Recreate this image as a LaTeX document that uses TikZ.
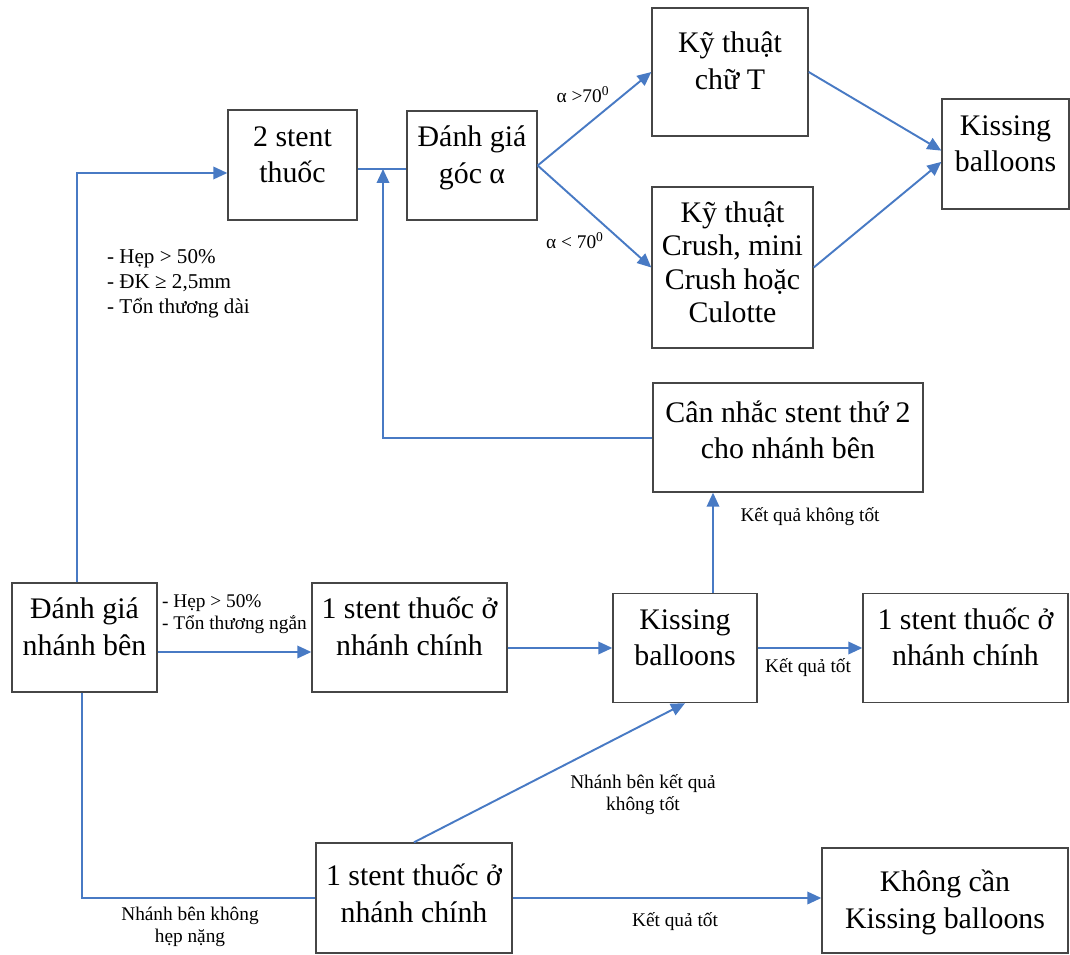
\documentclass[tikz,border=0pt]{standalone}
\usepackage{fontspec}
\setmainfont{Liberation Serif}
\usepackage{xcolor}
\usetikzlibrary{arrows.meta}
\definecolor{linkblue}{RGB}{72,122,196}
\definecolor{framegray}{RGB}{70,70,70}
% box text, lifted a little above the centre
\newcommand{\boxtext}[2][4.5pt]{\raisebox{#1}[\height][\depth]{\begin{tabular}{@{}c@{}}#2\end{tabular}}}

\begin{document}
\begin{tikzpicture}[x=0.02cm, y=-0.02cm,
                box/.style={draw=framegray, line width=0.8pt, rectangle, inner sep=0pt, font=\fontsize{17}{21}\selectfont},
                link/.style={draw=linkblue, line width=1.1pt},
                arrow/.style={link, -{Triangle[length=2.8mm, width=2.5mm]}},
                note/.style={font=\fontsize{11}{12.5}\selectfont, inner sep=1pt, align=center}]
                \useasboundingbox (0,0) rectangle (1070,955);

                \node[box, minimum width=2.58cm, minimum height=2.2cm] (s2) at (292.5,165) {\boxtext{2 stent\\thuốc}};
                \node[box, minimum width=2.6cm, minimum height=2.18cm] (goc) at (472,165.5) {\boxtext{Đánh giá\\góc α}};
                \node[box, minimum width=3.12cm, minimum height=2.56cm] (chuT) at (730,72) {\boxtext[5pt]{Kỹ thuật\\chữ T}};
                \node[box, minimum width=3.22cm, minimum height=3.22cm, font=\fontsize{17}{19}\selectfont] (crush) at (732.5,267.5) {\boxtext[1pt]{Kỹ thuật\\Crush, mini\\Crush hoặc\\Culotte}};
                \node[box, minimum width=2.54cm, minimum height=2.2cm] (kiss1) at (1005.5,154) {\boxtext{Kissing\\balloons}};
                \node[box, minimum width=5.4cm, minimum height=2.18cm] (cannhac) at (788,437.5) {\boxtext[2.5pt]{Cân nhắc stent thứ 2\\cho nhánh bên}};
                \node[box, minimum width=2.9cm, minimum height=2.18cm] (dgnb) at (84.5,637.5) {\boxtext{Đánh giá\\nhánh bên}};
                \node[box, minimum width=3.9cm, minimum height=2.18cm] (s1a) at (409.5,637.5) {\boxtext{1 stent thuốc ở\\nhánh chính}};
                \node[box, minimum width=2.88cm, minimum height=2.18cm] (kiss2) at (685,648) {\boxtext{Kissing\\balloons}};
                \node[box, minimum width=4.1cm, minimum height=2.18cm] (s1b) at (965.5,648) {\boxtext{1 stent thuốc ở\\nhánh chính}};
                \node[box, minimum width=3.92cm, minimum height=2.2cm] (s1c) at (414,898) {\boxtext[1pt]{1 stent thuốc ở\\nhánh chính}};
                \node[box, minimum width=4.92cm, minimum height=2.1cm] (khong) at (945,900.5) {\boxtext[-1pt]{Không cần\\Kissing balloons}};

                \coordinate (upleft) at (77,173);
                \coordinate (merge) at (383,169);
                \coordinate (back) at (383,438);
                \coordinate (rowa) at (0,652);
                \coordinate (rise) at (713,0);
                \coordinate (downleft) at (82,0);

                \draw[arrow] (dgnb.north -| upleft) -- (upleft) -- (upleft -| s2.west);
                \draw[link] (s2.east |- merge) -- (goc.west |- merge);
                \draw[arrow] (cannhac.west |- back) -- (back) -- (merge);
                \draw[arrow] (goc.east) -- (chuT.west);
                \draw[arrow] (goc.east) -- (crush.west);
                \draw[arrow] (chuT.east) -- (kiss1.177);
                \draw[arrow] (crush.east) -- (kiss1.187);
                \draw[arrow] (dgnb.east |- rowa) -- (s1a.west |- rowa);
                \draw[arrow] (s1a.east |- kiss2.west) -- (kiss2.west);
                \draw[arrow] (kiss2.east) -- (s1b.west);
                \draw[arrow] (kiss2.north -| rise) -- (cannhac.south -| rise);
                \draw[link] (dgnb.south -| downleft) |- (s1c.west);
                \draw[arrow] (s1c.north) -- (kiss2.south);
                \draw[arrow] (s1c.east) -- (khong.west |- s1c.east);

                \node[note, anchor=west, align=left, font=\fontsize{12}{14.2}\selectfont] (crit2) at (105,284) {- Hẹp > 50\%\\- ĐK ≥ 2,5mm\\- Tổn thương dài};
                \node[note] (gtl) at (583,95) {α >70\textsuperscript{0}};
                \node[note] (ltl) at (575,241) {α < 70\textsuperscript{0}};
                \node[note, anchor=west, align=left] (crit1) at (160,614) {- Hẹp > 50\%\\- Tổn thương ngắn};
                \node[note] (badl) at (810,517) {Kết quả không tốt};
                \node[note] (goodl) at (808,668) {Kết quả tốt};
                \node[note] (sidebad) at (643,795) {Nhánh bên kết quả\\không tốt};
                \node[note] (mild) at (190,927) {Nhánh bên không\\hẹp nặng};
                \node[note] (good2) at (675,922) {Kết quả tốt};
            \end{tikzpicture}
\end{document}
